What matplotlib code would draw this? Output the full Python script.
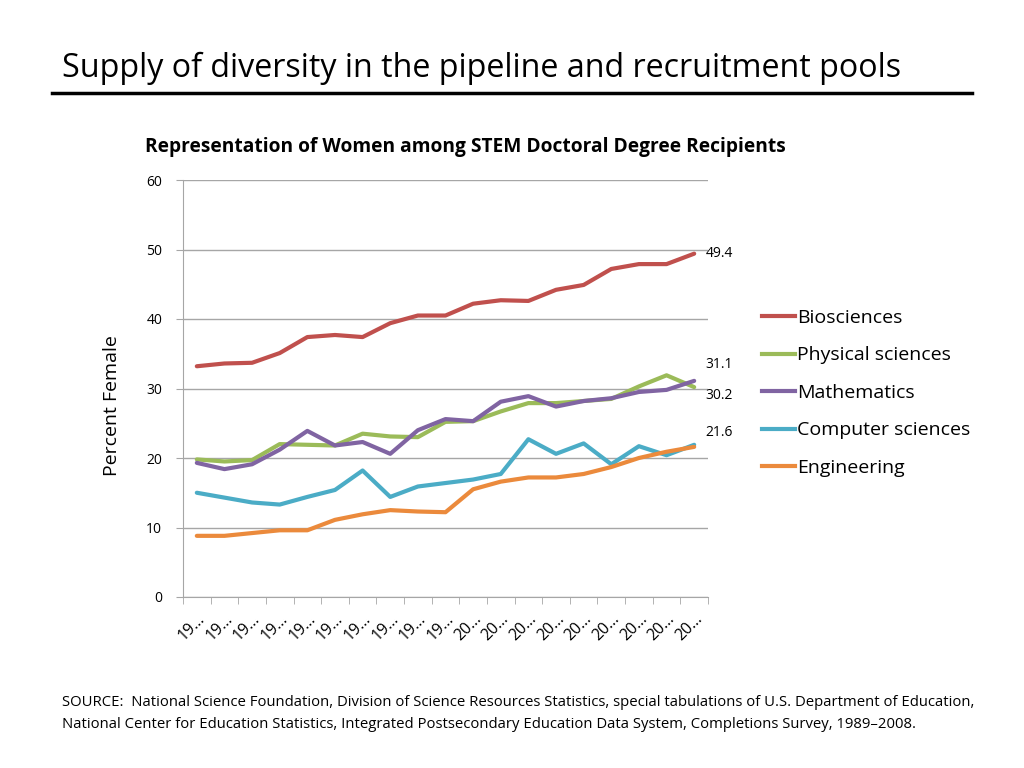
import numpy as np
import matplotlib.pyplot as plt
from matplotlib.lines import Line2D

plt.rcParams['font.family'] = ['Open Sans', 'DejaVu Sans']

years = list(range(1990, 2009))
tick_labels = [str(y)[:2] + "\u2026" for y in years]

biosciences = [33.2, 33.6, 33.7, 35.1, 37.4, 37.7, 37.4, 39.4, 40.5, 40.5,
               42.2, 42.7, 42.6, 44.2, 44.9, 47.2, 47.9, 47.9, 49.4]
physical = [19.8, 19.5, 19.7, 22.0, 21.9, 21.8, 23.5, 23.1, 23.0, 25.2,
            25.3, 26.7, 27.9, 27.9, 28.2, 28.5, 30.3, 31.9, 30.2]
mathematics = [19.3, 18.4, 19.1, 21.2, 23.9, 21.8, 22.3, 20.6, 24.0, 25.6,
               25.3, 28.1, 28.9, 27.4, 28.2, 28.6, 29.5, 29.8, 31.1]
computer = [15.0, 14.3, 13.6, 13.3, 14.4, 15.4, 18.2, 14.4, 15.9, 16.4,
            16.9, 17.7, 22.7, 20.6, 22.1, 19.1, 21.7, 20.4, 21.9]
engineering = [8.8, 8.8, 9.2, 9.6, 9.6, 11.1, 11.9, 12.5, 12.3, 12.2,
               15.5, 16.6, 17.2, 17.2, 17.7, 18.7, 20.0, 20.9, 21.6]

names = ["Biosciences", "Physical sciences", "Mathematics", "Computer sciences", "Engineering"]
series = [biosciences, physical, mathematics, computer, engineering]
colors = ["#C0504D", "#9BBB59", "#8064A2", "#4BACC6", "#EB8A3C"]

fig = plt.figure(figsize=(10.24, 7.68), dpi=100)

# slide title + rule
fig.text(62/1024, 1-68/768, "Supply of diversity in the pipeline and recruitment pools",
         fontsize=23.2, va='center', ha='left')
fig.add_artist(Line2D([52/1024, 972/1024], [1-93/768, 1-93/768], color='black', lw=2.5))

ax = fig.add_axes([183/1024, 1-597/768, (708-183)/1024, (597-180)/768])
x = np.arange(len(years))
for vals, c in zip(series, colors):
    ax.plot(x, vals, color=c, lw=3, solid_capstyle='round', zorder=3)

ax.set_xlim(-0.5, len(years) - 0.5)
ax.set_ylim(0, 60)
ax.set_yticks(range(0, 61, 10))
ax.grid(axis='y', color='#A6A6A6', lw=1)
ax.set_axisbelow(True)
for s in ['top', 'right']:
    ax.spines[s].set_visible(False)
for s in ['left', 'bottom']:
    ax.spines[s].set_color('#A6A6A6')
ax.tick_params(axis='y', length=5, color='#A6A6A6', labelsize=10, pad=10)
ax.set_xticks(x)
ax.set_xticklabels(tick_labels, rotation=45, ha='right', rotation_mode='anchor', fontsize=11.5)
ax.tick_params(axis='x', which='major', length=0, pad=10)
ax.set_xticks(np.arange(-0.5, len(years)), minor=True)
ax.tick_params(axis='x', which='minor', length=5, color='#A6A6A6')
ax.set_ylabel("Percent Female", fontsize=14)
ax.yaxis.set_label_coords(-0.118, 0.458)

# end labels
ax.annotate("49.4", (x[-1], biosciences[-1]), xytext=(8, 0), textcoords='offset points', fontsize=10, va='center')
ax.annotate("31.1", (x[-1], mathematics[-1]), xytext=(8, 12), textcoords='offset points', fontsize=10, va='center')
ax.annotate("30.2", (x[-1], physical[-1]), xytext=(8, -6), textcoords='offset points', fontsize=10, va='center')
ax.annotate("21.6", (x[-1], engineering[-1]), xytext=(8, 10), textcoords='offset points', fontsize=10, va='center')

fig.text(465/1024, 1-147/768, "Representation of Women among STEM Doctoral Degree Recipients",
         fontsize=13.8, fontweight='bold', ha='center', va='center')

# legend
handles = [Line2D([], [], color=c, lw=3) for c in colors]
fig.legend(handles, names, loc='upper left', bbox_to_anchor=(762/1024, 1-309/768),
           frameon=False, fontsize=14, handlelength=1.7, handletextpad=0.1,
           labelspacing=1.0, borderaxespad=0, borderpad=0)

fig.text(62/1024, 1-702/768,
         "SOURCE:  National Science Foundation, Division of Science Resources Statistics, special tabulations of U.S. Department of Education,",
         fontsize=10.7, va='center')
fig.text(62/1024, 1-724/768,
         "National Center for Education Statistics, Integrated Postsecondary Education Data System, Completions Survey, 1989\u20132008.",
         fontsize=10.7, va='center')

fig.savefig("out.png", dpi=100)
